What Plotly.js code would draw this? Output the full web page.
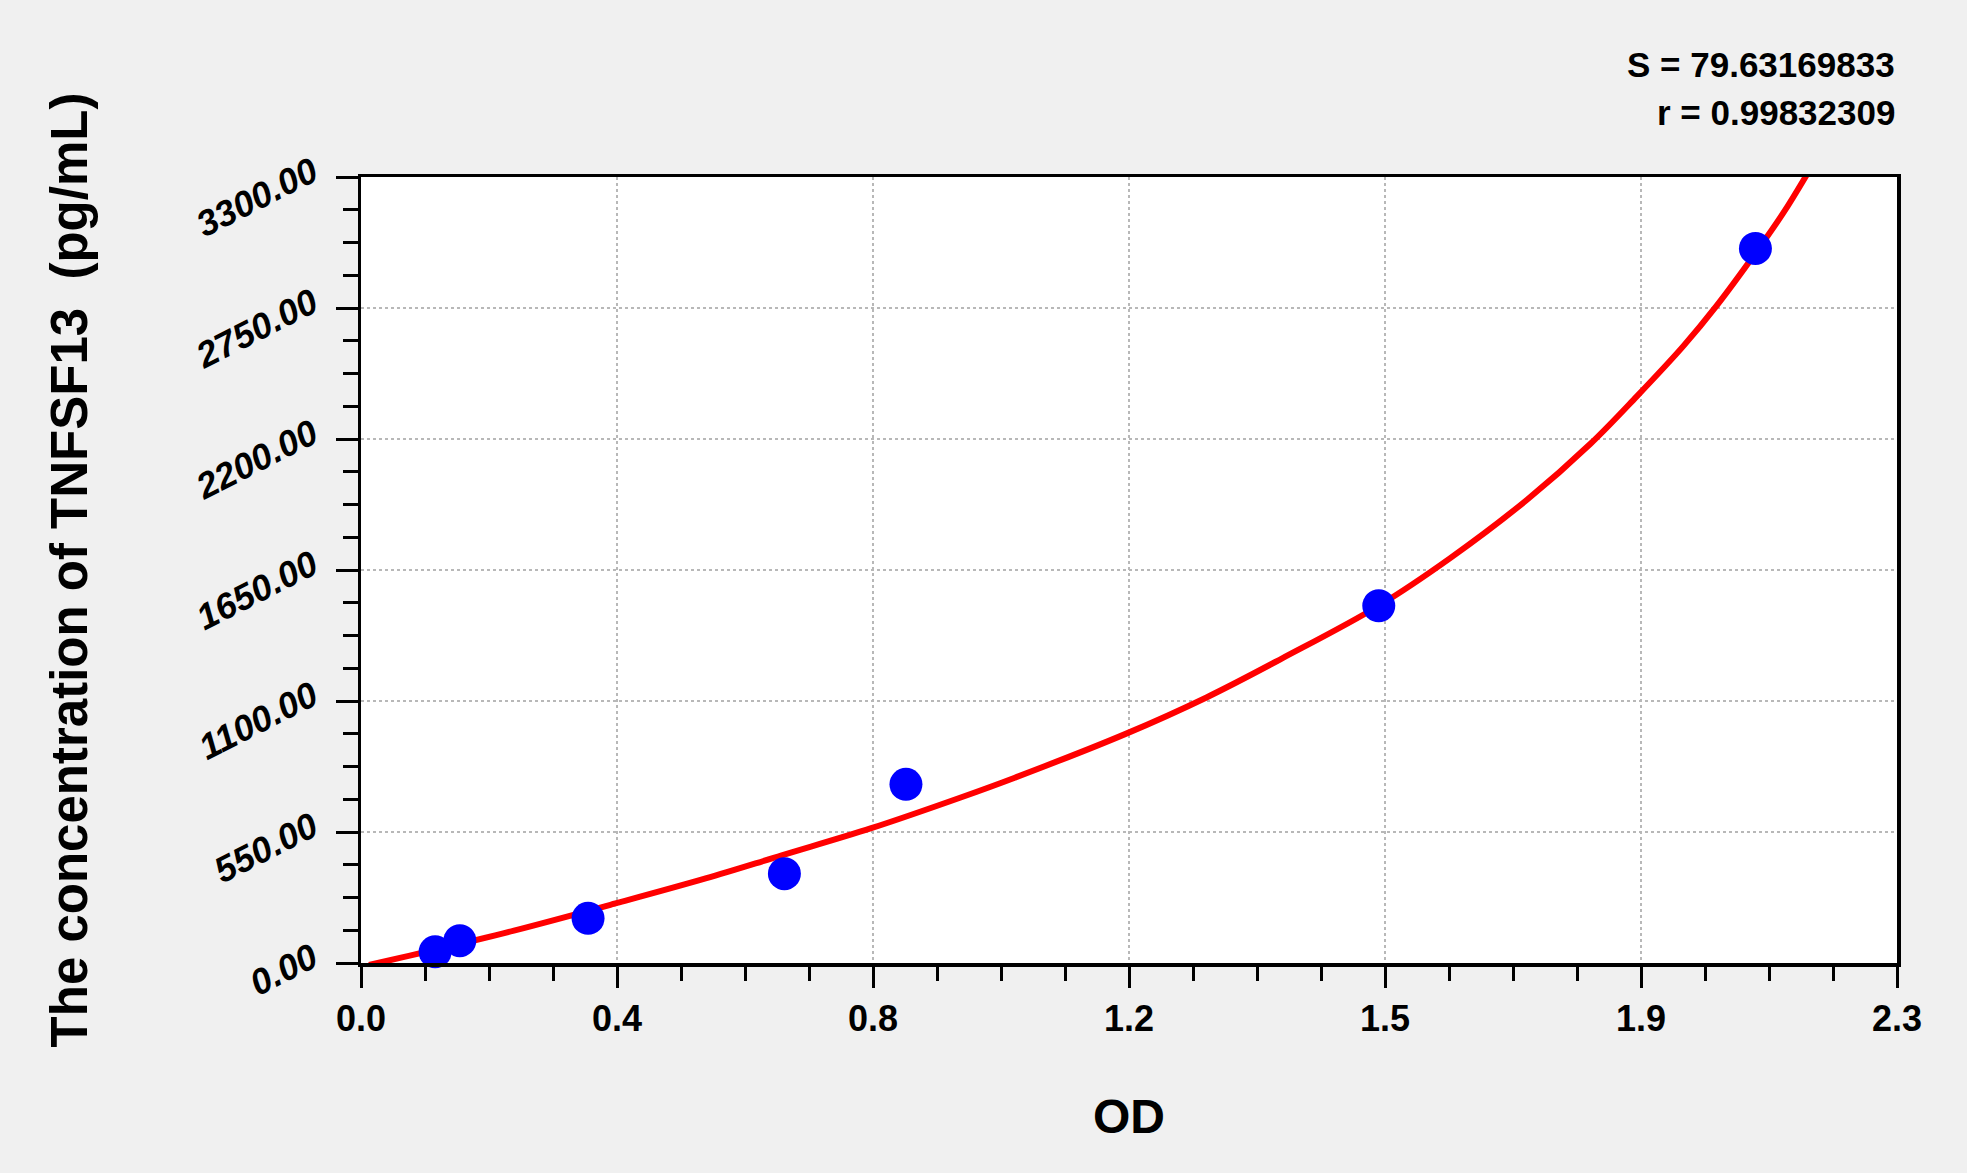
<!DOCTYPE html>
<html>
<head>
<meta charset="utf-8">
<script src="https://cdn.plot.ly/plotly-3.0.1.min.js"></script>
<style>
  html, body { margin: 0; padding: 0; background: #f0f0f0; }
  #chart { width: 1967px; height: 1173px; }
</style>
</head>
<body>
<div id="chart"></div>
<script>
// standard points (OD, concentration)
var odStd = [0.111, 0.148, 0.340, 0.634, 0.816, 1.524, 2.088];
var concStd = [46.88, 93.75, 187.5, 375, 750, 1500, 3000];

// fitted curve
var odFit = [0.012, 0.115, 0.229, 0.381, 0.516, 0.630, 0.764, 0.898, 0.979, 1.145, 1.266, 1.380, 1.524, 1.631, 1.746, 1.841, 1.910, 1.980, 2.030, 2.088, 2.130, 2.165];
var concFit = [-8, 58, 136, 250, 355, 452, 566, 695, 778, 962, 1115, 1280, 1500, 1700, 1945, 2180, 2378, 2590, 2760, 2980, 3150, 3310];

// x axis: 6 equal steps from 0 to 2.3, labels rounded to one decimal
var xMax = 2.3;
var xTickText = ['0.0', '0.4', '0.8', '1.2', '1.5', '1.9', '2.3'];
var yMax = 3300;
var yStep = 550;

var S_text = 'S = 79.63169833';
var r_text = 'r = 0.99832309';

var xStep = xMax / (xTickText.length - 1);
var xTickVals = xTickText.map(function(t, i){ return i * xStep; });
var xMinorVals = [];
for (var i = 0; i < xTickText.length - 1; i++) {
  for (var k = 1; k < 4; k++) xMinorVals.push(i * xStep + k * xStep / 4);
}

var fnt = 'Arial, "Liberation Sans", Helvetica, sans-serif';

var traces = [
  {
    type: 'scatter',
    mode: 'lines',
    x: odFit,
    y: concFit,
    line: { color: '#ff0000', width: 6, shape: 'spline', smoothing: 1 },
    hoverinfo: 'skip',
    showlegend: false
  },
  {
    type: 'scatter',
    mode: 'markers',
    x: odStd,
    y: concStd,
    marker: { color: '#0000ff', size: 33, line: { width: 0 } },
    cliponaxis: false,
    showlegend: false
  }
];

var layout = {
  width: 1967,
  height: 1173,
  paper_bgcolor: '#f0f0f0',
  plot_bgcolor: '#ffffff',
  margin: { l: 361, r: 70, t: 177, b: 210 },
  font: { family: fnt, color: '#000000' },
  showlegend: false,
  xaxis: {
    range: [0, xMax],
    tickmode: 'array',
    tickvals: xTickVals,
    ticktext: xTickText,
    ticks: 'outside',
    ticklen: 21,
    tickwidth: 3,
    tickcolor: '#000000',
    tickfont: { family: fnt, size: 36, weight: 'bold' },
    showline: true,
    linewidth: 3.5,
    linecolor: '#000000',
    mirror: true,
    showgrid: true,
    gridcolor: '#b8b8b8',
    gridwidth: 1.5,
    griddash: 'dot',
    zeroline: false,
    minor: {
      tickmode: 'array',
      tickvals: xMinorVals,
      ticks: 'outside',
      ticklen: 14,
      tickwidth: 3,
      tickcolor: '#000000',
      showgrid: false
    },
    title: { text: 'OD', font: { family: fnt, size: 48, weight: 'bold' }, standoff: 62 }
  },
  yaxis: {
    range: [0, yMax],
    tickmode: 'linear',
    tick0: 0,
    dtick: yStep,
    tickformat: '.2f',
    tickangle: -27,
    ticks: 'outside',
    ticklen: 22,
    tickwidth: 3,
    tickcolor: '#000000',
    ticklabelstandoff: 16,
    ticklabelshift: -9,
    tickfont: { family: fnt, size: 36, weight: 'bold', style: 'italic' },
    showline: true,
    linewidth: 3.5,
    linecolor: '#000000',
    mirror: true,
    showgrid: true,
    gridcolor: '#b8b8b8',
    gridwidth: 1.5,
    griddash: 'dot',
    zeroline: false,
    minor: {
      tickmode: 'linear',
      tick0: 0,
      dtick: yStep / 4,
      ticks: 'outside',
      ticklen: 15,
      tickwidth: 3,
      tickcolor: '#000000',
      showgrid: false
    },
    title: { text: 'The concentration of TNFSF13  (pg/mL)', font: { family: fnt, size: 51, weight: 'bold' }, standoff: 86 }
  },
  annotations: [
    {
      xref: 'paper', yref: 'paper', x: 1, y: (963 - 64) / 786,
      xanchor: 'right', yanchor: 'middle', showarrow: false,
      text: S_text,
      font: { family: fnt, size: 35, weight: 'bold' }
    },
    {
      xref: 'paper', yref: 'paper', x: 1, y: (963 - 113) / 786,
      xanchor: 'right', yanchor: 'middle', showarrow: false,
      text: r_text,
      font: { family: fnt, size: 35, weight: 'bold' }
    }
  ]
};

Plotly.newPlot('chart', traces, layout, { displayModeBar: false, staticPlot: true });
</script>
</body>
</html>
